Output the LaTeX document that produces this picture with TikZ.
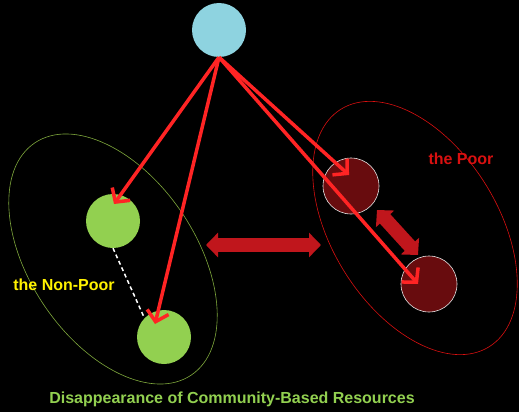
\documentclass[tikz,border=0pt]{standalone}
\usepackage{fontspec}
\setmainfont{Liberation Sans}
\usepackage{xcolor}
\usetikzlibrary{shapes.geometric,arrows.meta,calc,positioning}

\definecolor{skyblue}{HTML}{8ED3E0}
\definecolor{leafgreen}{HTML}{92D050}
\definecolor{poorred}{HTML}{680C0E}
\definecolor{brightred}{HTML}{FF2424}
\definecolor{blockred}{HTML}{C0161C}
\definecolor{ringgreen}{HTML}{7FA83C}
\definecolor{ringred}{HTML}{D81010}

\begin{document}
\begin{tikzpicture}[x=1pt, y=-1pt, >={Straight Barb[length=10pt,width=22pt]},
	ball/.style={circle, minimum size=54pt, inner sep=0pt},
	richball/.style={ball, fill=leafgreen},
	poorball/.style={ball, minimum size=56pt, fill=poorred, draw=white!80!gray, line width=0.6pt},
	setring/.style={ellipse, minimum width=280pt, minimum height=166pt, inner sep=0pt, line width=0.6pt, draw},
	flow/.style={->, brightred, line width=3.5pt},
	tradearrow/.style={{Triangle[length=12pt,width=24pt]}-{Triangle[length=12pt,width=24pt]}, blockred, line width=14pt},
	grouptext/.style={font=\fontsize{16}{19}\selectfont\bfseries}]
	\fill[black] (0,0) rectangle (519,412);
	\useasboundingbox (0,0) rectangle (519,412);
	
	\node[setring, draw=ringgreen, rotate=-56] (richset) at (113,259) {};
	\node[setring, draw=ringred, rotate=-58]   (poorset) at (415,228) {};
	
	\node[ball, fill=skyblue] (top) at (219,30)    {};
	\node[richball] (r1) at (113,221)              {};
	\node[richball] (r2) at (164,337)              {};
	\node[poorball] (p1) at (351,186)              {};
	\node[poorball] (p2) at (429,284)              {};
	
	\node[grouptext, text=ringred] (poorname) at (461,159)     {the Poor};
	\node[grouptext, text=yellow] (richname) at (64,285)       {the Non-Poor};
	\node[grouptext, text=leafgreen] (title) at (232,399)      {Disappearance of Community-Based Resources};
	
	\coordinate (hl) at (206,245);
	\coordinate (hr) at (321,245);
	\coordinate (dl) at (377,210);
	\coordinate (dr) at (418,255);
	
	\draw[white, line width=1.5pt, dash pattern=on 4pt off 3pt] (r1.south) -- (r2.136);
	\draw[tradearrow] (hl) -- (hr);
	\draw[tradearrow] (dl) -- (dr);
	
	\path[flow] (top.south) edge ($(r1)+(1,-17)$)
	(top.south) edge ($(r2)+(-9,-13)$)
	(top.south) edge ($(p1)+(-2,-11)$)
	(top.south) edge ($(p2)+(-11,0)$);
\end{tikzpicture}
\end{document}
